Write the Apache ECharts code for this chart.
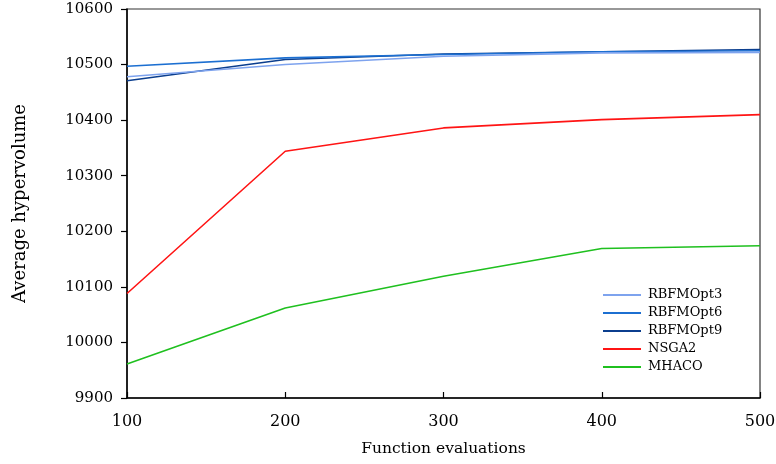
<!DOCTYPE html>
<html>
<head>
<meta charset="utf-8">
<script src="https://cdn.jsdelivr.net/npm/echarts@6/dist/echarts.min.js"></script>
<style>
  html, body { margin: 0; padding: 0; background: #fff; }
  #chart { width: 776px; height: 464px; }
</style>
</head>
<body>
<div id="chart"></div>
<script>
// Function evaluation budgets on the x axis
const evaluations = [100, 200, 300, 400, 500];

// Average hypervolume per algorithm
const rbfmopt3 = [10478, 10500, 10515, 10521, 10522];
const rbfmopt6 = [10497, 10512, 10518, 10523, 10525];
const rbfmopt9 = [10471, 10509, 10519, 10523, 10527];
const nsga2    = [10088, 10344, 10386, 10401, 10410];
const mhaco    = [9961, 10062, 10119, 10169, 10174];

const seriesNames = ['RBFMOpt3', 'RBFMOpt6', 'RBFMOpt9', 'NSGA2', 'MHACO'];
const seriesData = [rbfmopt3, rbfmopt6, rbfmopt9, nsga2, mhaco];
const seriesColors = ['#7ea3ee', '#1c6fd1', '#0b3e8e', '#ff1414', '#1fc01f'];

const fontFamily = '"DejaVu Serif", "Liberation Serif", serif';

const chart = echarts.init(document.getElementById('chart'));

chart.setOption({
  animation: false,
  backgroundColor: '#ffffff',
  textStyle: { fontFamily: fontFamily, color: '#000' },
  grid: {
    left: 127, right: 16, top: 9, bottom: 66,
    containLabel: false,
    outerBoundsMode: 'none',
    show: true, borderColor: '#333', borderWidth: 1.2
  },
  legend: {
    orient: 'vertical',
    left: 603, top: 288,
    padding: 0,
    icon: 'rect',
    itemWidth: 38, itemHeight: 2,
    itemGap: 4,
    textStyle: { fontFamily: fontFamily, fontSize: 13, color: '#000', padding: [0, 0, 0, 2], lineHeight: 14 },
    data: seriesNames
  },
  xAxis: {
    type: 'value',
    min: 100, max: 500, interval: 100,
    name: 'Function evaluations',
    nameLocation: 'middle',
    nameGap: 43,
    nameTextStyle: { fontFamily: fontFamily, fontSize: 15.5, color: '#000' },
    axisLine: { show: true, lineStyle: { color: '#000', width: 1.5 } },
    axisTick: { show: true, inside: true, length: 6, lineStyle: { color: '#000', width: 1.2 } },
    axisLabel: { fontFamily: fontFamily, fontSize: 16, color: '#000', margin: 16 },
    splitLine: { show: false }
  },
  yAxis: {
    type: 'value',
    min: 9900, max: 10600, interval: 100,
    name: 'Average hypervolume',
    nameLocation: 'middle',
    nameGap: 98,
    nameRotate: 90,
    nameTextStyle: { fontFamily: fontFamily, fontSize: 18, color: '#000' },
    axisLine: { show: true, lineStyle: { color: '#000', width: 1.5 } },
    axisTick: { show: true, inside: false, length: 6, lineStyle: { color: '#000', width: 1.2 } },
    axisLabel: {
      fontFamily: fontFamily, fontSize: 15, color: '#000', margin: 14,
      formatter: (v) => String(v)
    },
    splitLine: { show: false }
  },
  series: seriesNames.map((name, i) => ({
    name: name,
    type: 'line',
    data: evaluations.map((x, j) => [x, seriesData[i][j]]),
    showSymbol: false,
    symbol: 'none',
    lineStyle: { color: seriesColors[i], width: 1.6 },
    itemStyle: { color: seriesColors[i] },
    z: 10 - i
  }))
});
</script>
</body>
</html>
